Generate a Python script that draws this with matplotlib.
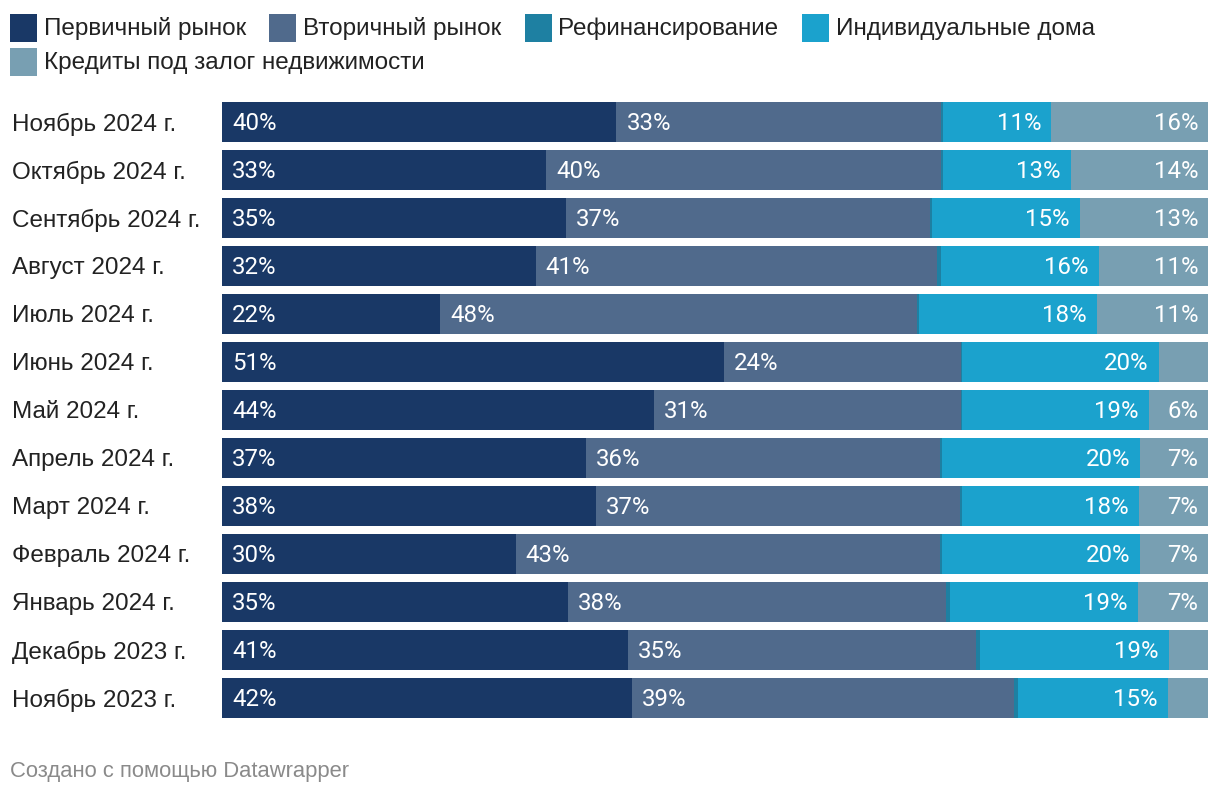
import matplotlib
matplotlib.use("Agg")
import matplotlib.pyplot as plt
from matplotlib.patches import Rectangle

plt.rcParams['font.family'] = ['Roboto', 'DejaVu Sans']
LABEL_FONT = ['Liberation Sans', 'DejaVu Sans']

categories = ["Ноябрь 2024 г.", "Октябрь 2024 г.", "Сентябрь 2024 г.", "Август 2024 г.",
              "Июль 2024 г.", "Июнь 2024 г.", "Май 2024 г.", "Апрель 2024 г.",
              "Март 2024 г.", "Февраль 2024 г.", "Январь 2024 г.", "Декабрь 2023 г.",
              "Ноябрь 2023 г."]
series_names = ["Первичный рынок", "Вторичный рынок", "Рефинансирование",
                "Индивидуальные дома", "Кредиты под залог недвижимости"]
primary   = [40.0, 32.9, 34.9, 31.8, 22.1, 50.9, 43.8, 36.9, 37.9, 29.8, 35.1, 41.2, 41.6]
secondary = [32.9, 40.0, 36.9, 40.7, 48.4, 24.0, 31.1, 35.9, 36.9, 43.0, 38.3, 35.3, 38.7]
refinance = [0.2, 0.2, 0.2, 0.4, 0.2, 0.2, 0.2, 0.2, 0.2, 0.2, 0.4, 0.4, 0.4]
houses    = [11.0, 13.0, 15.0, 16.0, 18.0, 19.9, 18.9, 20.1, 18.0, 20.1, 19.1, 19.1, 15.2]
credits   = [15.9, 13.9, 13.0, 11.1, 11.3, 5.0, 6.0, 6.9, 7.0, 6.9, 7.1, 4.0, 4.1]

colors = ["#193866", "#506a8c", "#1e80a2", "#1ba2cd", "#789fb2"]
series = [primary, secondary, refinance, houses, credits]
label_side = ["left", "left", None, "right", "right"]

fig = plt.figure(figsize=(12.2, 7.96), dpi=100)
W, H = 1220, 796
ax = fig.add_axes([222 / W, 1 - 722 / H, (1208 - 222) / W, (722 - 98) / H])

n = len(categories)
ys = list(range(n))
left = [0.0] * n
for vals, col, side in zip(series, colors, label_side):
    ax.barh(ys, vals, left=left, height=40 / 48, color=col, linewidth=0)
    for i in range(n):
        v = vals[i]
        if side is not None and v >= 5.5:
            txt = f"{round(v)}%"
            if side == "left":
                ax.annotate(txt, (left[i], ys[i]), xytext=(10, -2), textcoords="offset pixels",
                            ha="left", va="center", color="white", fontsize=17.3)
            else:
                ax.annotate(txt, (left[i] + v, ys[i]), xytext=(-10, -2), textcoords="offset pixels",
                            ha="right", va="center", color="white", fontsize=17.3)
    left = [l + v for l, v in zip(left, vals)]

ax.set_xlim(0, 100)
ax.set_ylim(n - 0.5, -0.5)
ax.axis("off")

# category labels
for i, c in enumerate(categories):
    ax.annotate(c, (0, ys[i]), xycoords=("figure fraction", "data"),
                xytext=(12, -2), textcoords="offset pixels",
                ha="left", va="center", color="#222222", fontsize=17.5, family=LABEL_FONT)

# legend (flow layout)
renderer = fig.canvas.get_renderer()
x0, row_y, row_h, max_x = 10, 28, 34, 1190
x = x0
for name, col in zip(series_names, colors):
    t = fig.text(0, 0, name, ha="left", va="center", fontsize=17.5,
                 color="#222222", family=LABEL_FONT)
    tw = t.get_window_extent(renderer).width
    if x + 34 + tw > max_x:
        x = x0
        row_y += row_h
    fig.patches.append(Rectangle((x / W, 1 - (row_y + 14) / H), 27 / W, 28 / H,
                                 transform=fig.transFigure, color=col, linewidth=0))
    t.set_position(((x + 34) / W, 1 - (row_y + 1) / H))
    x = x + 34 + tw + 23

fig.text(10 / W, 1 - 772 / H, "Создано с помощью Datawrapper", ha="left", va="center",
         fontsize=15.8, color="#8a8a8a", family=LABEL_FONT)

fig.savefig("out.png", dpi=100, facecolor="white")
